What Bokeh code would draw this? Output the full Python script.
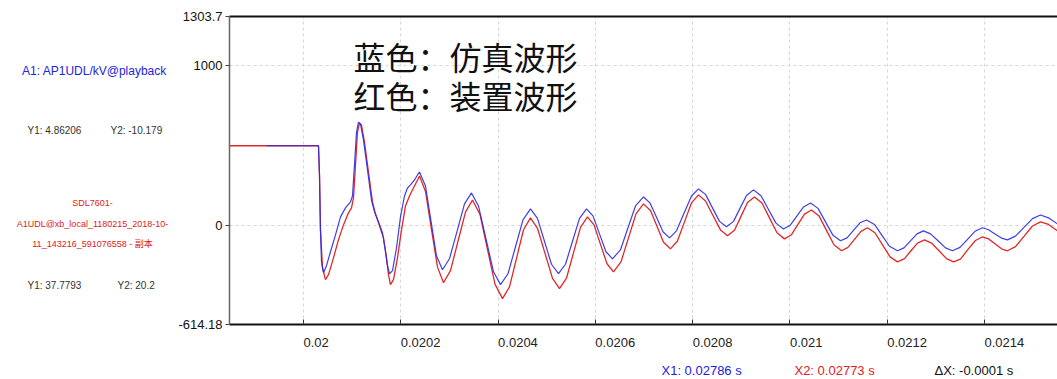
from bokeh.plotting import figure
from bokeh.models import Range1d, FixedTicker, LinearAxis, Label
from bokeh.layouts import row, column
from bokeh.embed import file_html
from bokeh.resources import INLINE

# ---------------- data (time in s, voltage in kV) ----------------
blue_t = [0.0199239, 0.0200308, 0.0200329, 0.0200349, 0.0200370, 0.0200411, 0.0200473, 0.0200555, 0.0200658, 0.0200761,
          0.0200863, 0.0200966, 0.0201007, 0.0201048, 0.0201090, 0.0201131, 0.0201172, 0.0201233, 0.0201316, 0.0201398,
          0.0201460, 0.0201542, 0.0201624, 0.0201686, 0.0201727, 0.0201768, 0.0201830, 0.0201912, 0.0201994, 0.0202076,
          0.0202138, 0.0202200, 0.0202282, 0.0202343, 0.0202385, 0.0202508, 0.0202621, 0.0202734, 0.0202857, 0.0203001,
          0.0203156, 0.0203310, 0.0203454, 0.0203597, 0.0203752, 0.0203906, 0.0204050, 0.0204204, 0.0204358, 0.0204512,
          0.0204666, 0.0204810, 0.0204954, 0.0205098, 0.0205242, 0.0205386, 0.0205530, 0.0205674, 0.0205818, 0.0205951,
          0.0206085, 0.0206218, 0.0206352, 0.0206517, 0.0206671, 0.0206825, 0.0206989, 0.0207123, 0.0207257, 0.0207390,
          0.0207524, 0.0207668, 0.0207822, 0.0207976, 0.0208120, 0.0208264, 0.0208408, 0.0208552, 0.0208696, 0.0208840,
          0.0208973, 0.0209107, 0.0209251, 0.0209405, 0.0209559, 0.0209713, 0.0209867, 0.0210011, 0.0210145, 0.0210279,
          0.0210422, 0.0210577, 0.0210731, 0.0210885, 0.0211039, 0.0211173, 0.0211306, 0.0211440, 0.0211574, 0.0211738,
          0.0211892, 0.0212046, 0.0212211, 0.0212344, 0.0212478, 0.0212612, 0.0212745, 0.0212889, 0.0213044, 0.0213198,
          0.0213341, 0.0213496, 0.0213650, 0.0213804, 0.0213958, 0.0214082, 0.0214215, 0.0214349, 0.0214472, 0.0214637,
          0.0214811, 0.0214986, 0.0215151, 0.0215315, 0.0215500]
blue_v = [499, 499, 317, -25, -224, -292, -248, -161, -56, 56,
          112, 149, 186, 379, 584, 646, 634, 534, 348, 161,
          87, 25, -43, -161, -248, -298, -279, -137, 56, 186,
          236, 255, 286, 317, 335, 248, 31, -186, -273, -205,
          -34, 137, 205, 124, -81, -286, -366, -298, -130, 37,
          106, 47, -96, -239, -298, -239, -96, 47, 106, 62,
          -50, -161, -205, -149, -12, 124, 180, 143, 53, -37,
          -75, -31, 78, 186, 230, 196, 112, 28, -6, 28,
          109, 189, 224, 188, 102, 17, -19, 6, 62, 118,
          143, 109, 25, -59, -93, -75, -28, 19, 37, 9,
          -59, -127, -155, -137, -93, -50, -31, -50, -93, -137,
          -155, -134, -84, -34, -12, -24, -50, -76, -87, -64,
          -9, 45, 68, 50, 12]

red_t = [0.0198479, 0.0200308, 0.0200329, 0.0200349, 0.0200391, 0.0200452, 0.0200514, 0.0200617, 0.0200719, 0.0200822,
         0.0200925, 0.0200987, 0.0201028, 0.0201069, 0.0201110, 0.0201151, 0.0201192, 0.0201254, 0.0201336, 0.0201418,
         0.0201480, 0.0201562, 0.0201645, 0.0201706, 0.0201747, 0.0201788, 0.0201850, 0.0201932, 0.0202015, 0.0202097,
         0.0202179, 0.0202261, 0.0202323, 0.0202385, 0.0202508, 0.0202631, 0.0202755, 0.0202878, 0.0203022, 0.0203176,
         0.0203330, 0.0203474, 0.0203628, 0.0203782, 0.0203937, 0.0204091, 0.0204235, 0.0204379, 0.0204523, 0.0204666,
         0.0204810, 0.0204965, 0.0205119, 0.0205263, 0.0205406, 0.0205550, 0.0205694, 0.0205838, 0.0205972, 0.0206105,
         0.0206239, 0.0206373, 0.0206527, 0.0206681, 0.0206835, 0.0206989, 0.0207133, 0.0207267, 0.0207401, 0.0207544,
         0.0207688, 0.0207832, 0.0207976, 0.0208120, 0.0208264, 0.0208418, 0.0208572, 0.0208716, 0.0208860, 0.0208994,
         0.0209127, 0.0209271, 0.0209425, 0.0209579, 0.0209734, 0.0209888, 0.0210032, 0.0210165, 0.0210299, 0.0210443,
         0.0210597, 0.0210751, 0.0210905, 0.0211060, 0.0211193, 0.0211327, 0.0211461, 0.0211594, 0.0211748, 0.0211903,
         0.0212057, 0.0212211, 0.0212355, 0.0212488, 0.0212622, 0.0212766, 0.0212910, 0.0213064, 0.0213218, 0.0213362,
         0.0213506, 0.0213660, 0.0213814, 0.0213958, 0.0214082, 0.0214215, 0.0214349, 0.0214472, 0.0214637, 0.0214811,
         0.0214986, 0.0215151, 0.0215315, 0.0215500]
red_v = [499, 499, 317, -25, -261, -335, -304, -199, -87, 6,
         81, 112, 174, 379, 584, 640, 627, 522, 335, 149,
         75, 0, -75, -199, -304, -366, -335, -199, -25, 124,
         186, 236, 273, 311, 214, -22, -257, -354, -279, -96,
         86, 161, 71, -146, -363, -453, -380, -202, -24, 50,
         -15, -171, -327, -391, -326, -168, -9, 56, 6, -115,
         -236, -286, -224, -75, 75, 137, 96, -3, -102, -143,
         -94, 25, 143, 193, 155, 65, -25, -62, -27, 59,
         145, 180, 142, 50, -43, -81, -55, 9, 73, 99,
         62, -28, -118, -155, -134, -84, -34, -12, -43, -118,
         -193, -224, -204, -155, -107, -87, -107, -155, -204, -224,
         -207, -146, -91, -68, -81, -112, -143, -155, -129, -65,
         -1, 25, 9, -31]

x_ticks = [0.0200, 0.0202, 0.0204, 0.0206, 0.0208, 0.0210, 0.0212, 0.0214]
x_tick_labels = ["0.02", "0.0202", "0.0204", "0.0206", "0.0208", "0.021", "0.0212", "0.0214"]
y_ticks = [-614.18, 0, 1000, 1303.7]
y_tick_labels = ["-614.18", "0", "1000", "1303.7"]

x_start, x_end = 0.0198479, 0.0215500
y_start, y_end = -614.18, 1303.7

SANS = "Liberation Sans"
CJK = "Noto Sans CJK SC"

LEFT_W = 175          # width of the info panel
AXIS_W = 54           # room for the y tick labels
TOP_H = 16
BOT_B = 10
MAIN_H = 334
BOTTOM_H = 379 - MAIN_H
TOTAL_W = 1057


def bare(fig):
    fig.outline_line_color = None
    fig.background_fill_color = "white"
    fig.border_fill_color = "white"
    fig.xaxis.visible = False
    fig.yaxis.visible = False
    fig.xgrid.visible = False
    fig.ygrid.visible = False


# ---------------- main plot ----------------
p = figure(width=TOTAL_W - LEFT_W, height=MAIN_H, output_backend="svg", toolbar_location=None,
           x_range=Range1d(x_start, x_end), y_range=Range1d(y_start, y_end),
           min_border_left=AXIS_W, min_border_right=0, min_border_top=TOP_H, min_border_bottom=BOT_B)
p.outline_line_color = None
p.background_fill_color = "white"
p.border_fill_color = "white"

for g in (p.xgrid, p.ygrid):
    g.grid_line_color = "#d6d6d6"
    g.grid_line_dash = "3 3"
    g.grid_line_width = 1

p.xaxis.ticker = FixedTicker(ticks=x_ticks)
p.xaxis.axis_line_color = "#111111"
p.xaxis.axis_line_width = 2
p.xaxis.major_tick_in = 5
p.xaxis.major_tick_out = 0
p.xaxis.major_tick_line_color = "#333333"
p.xaxis.minor_tick_line_color = None
p.xaxis.major_label_text_font_size = "1px"
p.xaxis.major_label_text_alpha = 0
p.xaxis.major_label_standoff = 0

p.yaxis.ticker = FixedTicker(ticks=y_ticks)
p.yaxis.major_label_overrides = {t: l for t, l in zip(y_ticks, y_tick_labels)}
p.yaxis.axis_line_color = "#666666"
p.yaxis.axis_line_width = 1.5
p.yaxis.major_tick_in = 0
p.yaxis.major_tick_out = 4
p.yaxis.major_tick_line_color = "#444444"
p.yaxis.minor_tick_line_color = None
p.yaxis.major_label_text_font = SANS
p.yaxis.major_label_text_font_size = "13px"
p.yaxis.major_label_text_color = "#111111"
p.yaxis.major_label_standoff = 3

top = LinearAxis(ticker=FixedTicker(ticks=[]), axis_line_color="#111111", axis_line_width=2,
                 major_tick_line_color=None, minor_tick_line_color=None,
                 major_label_text_font_size="1px", major_label_text_alpha=0, major_label_standoff=0)
p.add_layout(top, "above")

p.line(red_t, red_v, line_color="#e02828", line_width=1.3)
p.line(blue_t, blue_v, line_color="#2a2ae6", line_width=1.2, line_alpha=0.9)

for txt, yv in (("蓝色：仿真波形", 1056), ("红色：装置波形", 814)):
    p.add_layout(Label(x=0.0201028, y=yv, text=txt, text_align="left", text_baseline="middle",
                       text_font=CJK, text_font_size="32px", text_color="#111111"))

# ---------------- strip below the plot: x tick labels + cursor readouts ----------------
b = figure(width=TOTAL_W - LEFT_W, height=BOTTOM_H, output_backend="svg", toolbar_location=None,
           x_range=p.x_range, y_range=Range1d(379, MAIN_H),
           min_border_left=AXIS_W, min_border_right=0, min_border_top=0, min_border_bottom=0)
bare(b)
for t, lbl in zip(x_ticks, x_tick_labels):
    b.add_layout(Label(x=t, y=342, text=lbl, text_align="left", text_baseline="middle",
                       text_font=SANS, text_font_size="13px", text_color="#222222"))
for xv, txt, col in ((0.0207359, "X1: 0.02786 s", "#2020e0"),
                     (0.0210093, "X2: 0.02773 s", "#e02020"),
                     (0.0212971, "ΔX: -0.0001 s", "#111111")):
    b.add_layout(Label(x=xv, y=370, text=txt, text_align="left", text_baseline="middle",
                       text_font=SANS, text_font_size="13px", text_color=col))

# ---------------- left info panel ----------------
l = figure(width=LEFT_W, height=379, output_backend="svg", toolbar_location=None,
           x_range=Range1d(0, LEFT_W), y_range=Range1d(379, 0),
           min_border_left=0, min_border_right=0, min_border_top=0, min_border_bottom=0)
bare(l)


def lab(x, y, text, color, size, align="left"):
    l.add_layout(Label(x=x, y=y, text=text, text_align=align, text_baseline="middle",
                       text_font=SANS + ", " + CJK, text_font_size=size, text_color=color))


lab(94, 70, "A1: AP1UDL/kV@playback", "#2323e0", "12px", align="center")
lab(27, 130, "Y1: 4.86206", "#333333", "10px")
lab(110, 130, "Y2: -10.179", "#333333", "10px")
lab(92, 202, "SDL7601-", "#e02020", "9px", align="center")
lab(92, 223, "A1UDL@xb_local_1180215_2018-10-", "#e02020", "9px", align="center")
lab(92, 243, "11_143216_591076558 - 副本", "#e02020", "9px", align="center")
lab(27, 285, "Y1: 37.7793", "#333333", "10px")
lab(117, 285, "Y2: 20.2", "#333333", "10px")

layout = row(l, column(p, b, spacing=0), spacing=0)
open("out.html", "w").write(file_html(layout, INLINE))
